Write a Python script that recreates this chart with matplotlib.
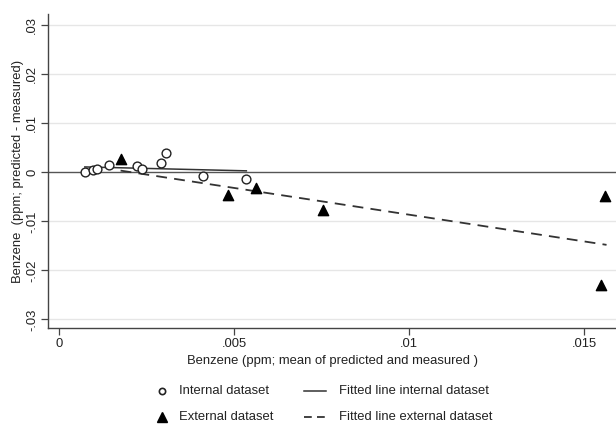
import numpy as np
import matplotlib
matplotlib.use("Agg")
import matplotlib.pyplot as plt
from matplotlib.lines import Line2D

plt.rcParams["font.family"] = ["Liberation Sans", "DejaVu Sans"]

# internal dataset (mean, difference)
int_x = [0.00074, 0.00098, 0.00109, 0.00144, 0.00223, 0.00237, 0.00292, 0.00307, 0.00410, 0.00535]
int_y = [0.0000, 0.0004, 0.0007, 0.0015, 0.0013, 0.0007, 0.0019, 0.0040, -0.0008, -0.0013]

# external dataset
ext_x = [0.00176, 0.00482, 0.00562, 0.00754, 0.01560, 0.01548]
ext_y = [0.0027, -0.0047, -0.0032, -0.0077, -0.0049, -0.0230]

# fitted lines (end points)
fit_int_x = [0.00074, 0.00535]
fit_int_y = [0.0011, 0.0003]
fit_ext_x = [0.00176, 0.01563]
fit_ext_y = [0.00035, -0.0148]

xticks = [0, 0.005, 0.01, 0.015]
xtick_labels = ["0", ".005", ".01", ".015"]
yticks = [-0.03, -0.02, -0.01, 0, 0.01, 0.02, 0.03]
ytick_labels = ["-.03", "-.02", "-.01", "0", ".01", ".02", ".03"]

legend_labels = ["Internal dataset", "External dataset",
                 "Fitted line internal dataset", "Fitted line external dataset"]

FS = 9.4
W, H = 616, 424

fig = plt.figure(figsize=(6.16, 4.24), dpi=100)
ax = fig.add_axes([0.078, 0.226, 0.922, 0.741])

for yv in yticks:
    if yv != 0:
        ax.axhline(yv, color="#e6e6e6", linewidth=1.0, zorder=0)
ax.axhline(0, color="#555555", linewidth=1.0, zorder=1)

ax.plot(fit_int_x, fit_int_y, color="#333333", linewidth=1.1, zorder=2)
ax.plot(fit_ext_x, fit_ext_y, color="#333333", linewidth=1.3,
        linestyle=(0, (6, 4)), zorder=2)
ax.scatter(int_x, int_y, s=40, marker="o", facecolors="white",
           edgecolors="#222222", linewidths=1.0, zorder=3)
ax.scatter(ext_x, ext_y, s=55, marker="^", color="black", zorder=3)

ax.set_xlim(-0.00031, 0.0159)
ax.set_ylim(-0.0318, 0.0323)
ax.set_xticks(xticks)
ax.set_xticklabels(xtick_labels)
ax.set_yticks(yticks)
ax.set_yticklabels(ytick_labels, rotation=90, va="center")

for s in ["top", "right"]:
    ax.spines[s].set_visible(False)
for s in ["left", "bottom"]:
    ax.spines[s].set_color("#444444")
    ax.spines[s].set_linewidth(1.0)

ax.tick_params(axis="both", direction="out", length=5, width=0.9,
               color="#444444", labelsize=FS, labelcolor="#222222", pad=2)

ax.set_xlabel("Benzene (ppm; mean of predicted and measured )",
              fontsize=FS, color="#222222", labelpad=4)
ax.set_ylabel("Benzene  (ppm; predicted - measured)",
              fontsize=FS, color="#222222", labelpad=2)

# legend drawn by hand below the axes (pixel positions converted to figure coords)
def fx(px):
    return px / W

def fy(py):
    return 1 - py / H

rows = [391, 417]
fig.add_artist(Line2D([fx(162)], [fy(rows[0])], linestyle="none", marker="o",
                      markersize=4.5, markerfacecolor="white",
                      markeredgecolor="#222222", markeredgewidth=1.2))
fig.add_artist(Line2D([fx(162)], [fy(rows[1])], linestyle="none", marker="^",
                      markersize=6.5, color="black"))
fig.add_artist(Line2D([fx(304), fx(326)], [fy(rows[0])] * 2,
                      color="#333333", linewidth=1.1))
fig.add_artist(Line2D([fx(304), fx(325)], [fy(rows[1])] * 2,
                      color="#333333", linewidth=1.3, linestyle=(0, (4.3, 2.9))))
for i, lab in enumerate(legend_labels):
    x0 = 179 if i < 2 else 339
    fig.text(fx(x0), fy(rows[i % 2]), lab, fontsize=FS, color="#222222",
             va="center", ha="left")

fig.savefig("out.png", dpi=100, facecolor="white")
